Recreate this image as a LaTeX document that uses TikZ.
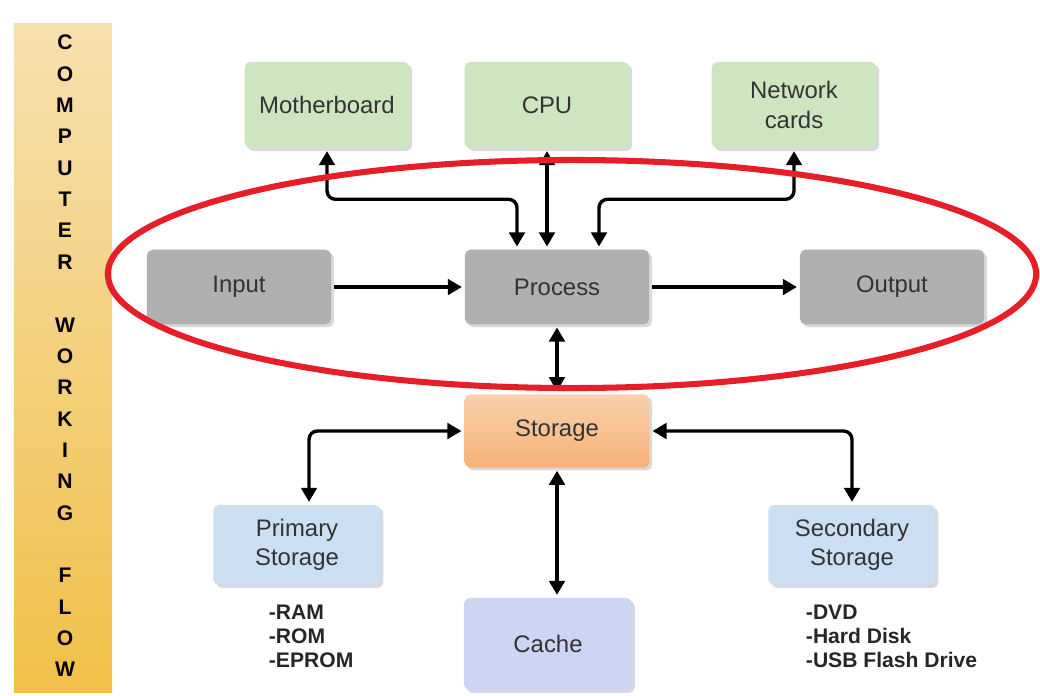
\documentclass[tikz,border=0pt]{standalone}
\usepackage{fontspec}
\setmainfont{Liberation Sans}
\usetikzlibrary{arrows.meta}
\usetikzlibrary{shadows}
\usetikzlibrary{positioning}

\definecolor{partgreen}{RGB}{206,229,194}
\definecolor{flowgray}{RGB}{176,176,176}
\definecolor{storetop}{RGB}{250,208,172}
\definecolor{storebot}{RGB}{245,178,118}
\definecolor{memblue}{RGB}{204,222,242}
\definecolor{cacheblue}{RGB}{204,214,244}
\definecolor{bartop}{RGB}{247,224,176}
\definecolor{barbot}{RGB}{240,192,72}
\definecolor{ringred}{RGB}{230,30,40}

\begin{document}
\begin{tikzpicture}[x=0.025cm, y=-0.025cm,
    box/.style={rounded corners=4pt, align=center, text=black!80,
      font=\fontsize{17}{21}\selectfont,
      drop shadow={shadow xshift=2pt, shadow yshift=-2pt, opacity=0.3}},
    part/.style={box, fill=partgreen, minimum width=4.12cm, minimum height=2.15cm},
    stage/.style={box, fill=flowgray, minimum width=4.6cm, minimum height=1.87cm},
    mem/.style={box, fill=memblue, minimum width=4.18cm, minimum height=2cm},
    list/.style={align=left, font=\fontsize{15}{17}\selectfont\bfseries, text=black!85},
    flow/.style={<->, line width=2.4pt, rounded corners=6pt, shorten <=2pt, shorten >=2pt,
      >={Triangle[length=10pt,width=11pt]}}]
  \useasboundingbox (0,0) rectangle (1040,696);

  % title bar
  \node[minimum width=2.45cm, minimum height=16.7cm, top color=bartop, bottom color=barbot] (bar) at (63,358) {};
  \node[align=center, font=\fontsize{15}{22.3}\selectfont\bfseries] (title) at (65,356)
    {C\\O\\M\\P\\U\\T\\E\\R\\[22.3pt]W\\O\\R\\K\\I\\N\\G\\[22.3pt]F\\L\\O\\W};

  % hardware
  \node[part] (mb) at (327,105) {Motherboard};
  \node[part] (cpu) at (547,105) {CPU};
  \node[part] (net) at (794,105) {Network\\cards};

  % main flow
  \node[stage] (in) at (239,287) {Input};
  \node[stage] (proc) at (557,287) {Process};
  \node[stage] (out) at (892,287) {Output};

  % storage
  \node[box, top color=storetop, bottom color=storebot, minimum width=4.62cm, minimum height=1.83cm] (stor) at (557,431) {Storage};
  \node[mem] (prim) at (297,545) {Primary\\Storage};
  \node[mem] (sec) at (852,545) {Secondary\\Storage};
  \node[box, fill=cacheblue, minimum width=4.2cm, minimum height=2.3cm] (cache) at (548,644) {Cache};

  \node[list, anchor=north west] (primlist) at (264,600) {-RAM\\-ROM\\-EPROM};
  \node[list, anchor=north west] (seclist) at (801,600) {-DVD\\-Hard Disk\\-USB Flash Drive};

  \draw[flow, ->] (in) -- (proc);
  \draw[flow, ->] (proc) -- (out);
  \draw[flow] (mb.south) |- ([xshift=-1cm, yshift=1.25cm]proc.north) -- ([xshift=-1cm]proc.north);
  \draw[flow] (cpu.south) -- (cpu.south |- proc.north);
  \draw[flow] (net.south) |- ([xshift=1.05cm, yshift=1.25cm]proc.north) -- ([xshift=1.05cm]proc.north);
  \draw[flow] (proc) -- (stor);
  \draw[flow] (stor.west) -| ([xshift=0.3cm]prim.north);
  \draw[flow] (stor.east) -| (sec.north);
  \draw[flow] (stor) -- (stor |- cache.north);

  % highlight ring
  \draw[ringred, line width=4.3pt] (572,274) ellipse [x radius=11.6cm, y radius=2.85cm];
\end{tikzpicture}
\end{document}
